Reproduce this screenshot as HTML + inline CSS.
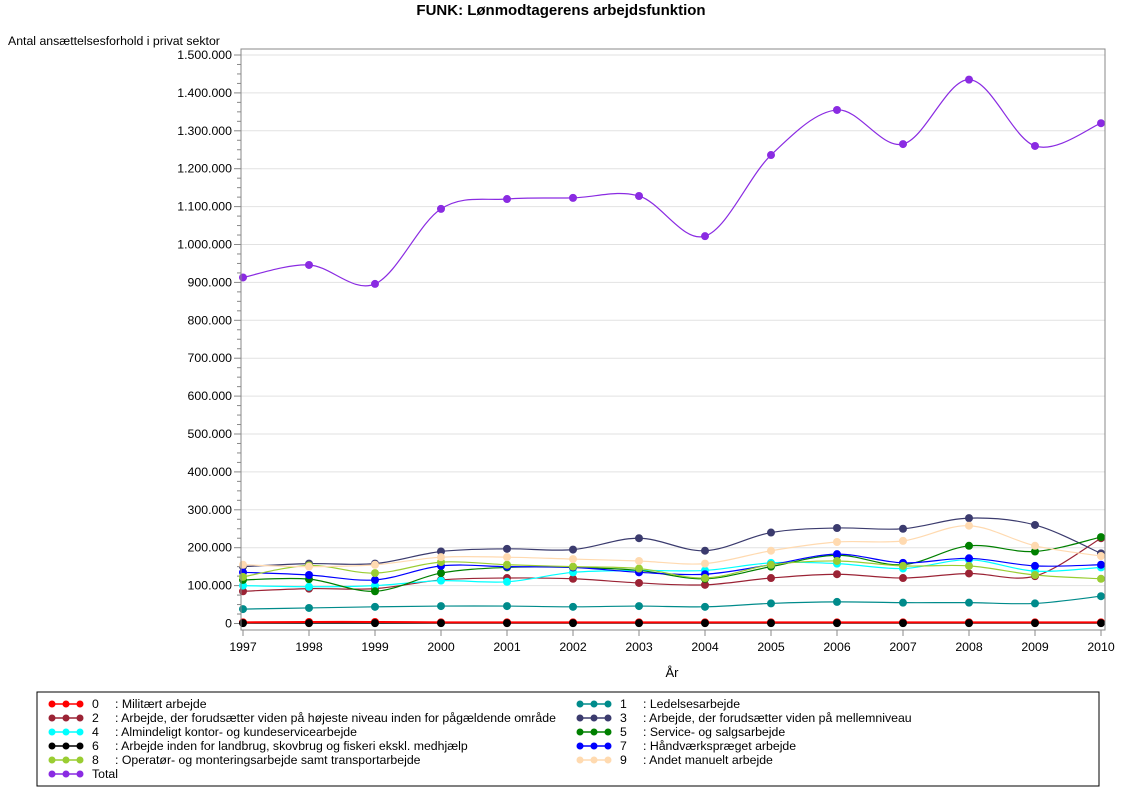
<!DOCTYPE html>
<html><head><meta charset="utf-8"><style>
body{margin:0;background:#fff;font-family:"Liberation Sans",sans-serif}
</style></head><body>
<svg id="s" width="1122" height="793" xmlns="http://www.w3.org/2000/svg" font-family="Liberation Sans, sans-serif">
<rect width="1122" height="793" fill="#fff"/>
<text x="561" y="15" text-anchor="middle" font-size="15" font-weight="bold">FUNK: Lønmodtagerens arbejdsfunktion</text>
<text x="8" y="45" font-size="12.3">Antal ansættelsesforhold i privat sektor</text>
<text x="672" y="677" text-anchor="middle" font-size="13">År</text>
<g id="grid"></g>
<g id="ser"></g>
<rect x="241" y="49" width="864" height="581" fill="none" stroke="#888"/>
<g id="leg"></g>
<rect x="37" y="692" width="1062" height="94" fill="none" stroke="#000"/>
</svg>
<script>
const S=document.getElementById('s'),ns='http://www.w3.org/2000/svg';
function el(t,a,p,txt){const e=document.createElementNS(ns,t);for(const k in a)e.setAttribute(k,a[k]);if(txt!=null)e.textContent=txt;(p||S).appendChild(e);return e}
const X=i=>243+i*66, Y=v=>623.5-v*0.379;
const G=document.getElementById('grid');
for(let v=0;v<=1500;v+=100){const y=Y(v);
 if(v>0)el('line',{x1:241,x2:1105,y1:y,y2:y,stroke:'#e2e2e2'},G);
 el('line',{x1:234,x2:241,y1:y,y2:y,stroke:'#888'},G);
 el('text',{x:232,y:y+4,'text-anchor':'end','font-size':12.3},G,v==0?'0':(v>=1000?Math.floor(v/1000)+'.'+String(v%1000).padStart(3,'0')+'.000':v+'.000'));
 if(v<1500)for(let m=1;m<4;m++){const ym=Y(v+m*25);el('line',{x1:237,x2:241,y1:ym,y2:ym,stroke:'#888'},G);}
}
for(let i=0;i<14;i++){el('line',{x1:X(i),x2:X(i),y1:630,y2:636,stroke:'#888'},G);el('text',{x:X(i),y:651,'text-anchor':'middle','font-size':12.3},G,1997+i);}
const D=[
['#ff0000',[3,4,4,3,3,3,3,3,3,3,3,3,3,3]],
['#008b8b',[38,41,44,46,46,44,46,44,53,57,55,55,53,72]],
['#9b2335',[85,92,92,115,120,118,107,102,120,130,120,132,125,225]],
['#3b3b6e',[150,158,158,190,197,195,225,192,240,252,250,278,260,185]],
['#00ffff',[100,97,100,113,110,135,140,140,160,158,145,168,138,148]],
['#008000',[115,117,85,133,148,148,140,118,150,180,155,205,190,228]],
['#000000',[1,1,1,1,1,1,1,1,1,1,1,1,1,1]],
['#0000ff',[135,128,115,152,150,148,135,130,155,183,160,172,152,155]],
['#9acd32',[123,153,133,162,155,150,145,120,155,165,152,152,128,118]],
['#ffdab0',[155,150,155,175,175,170,165,158,192,215,218,258,205,178]],
['#8a2be2',[913,946,896,1094,1120,1123,1128,1022,1236,1355,1265,1435,1260,1320]]];
const SG=document.getElementById('ser');
function pts(v){return v.map((a,i)=>[X(i),Y(a)]);}
function path(p){let d='M'+p[0];
 for(let i=0;i<p.length-1;i++){const p0=p[i-1]||p[i],p1=p[i],p2=p[i+1],p3=p[i+2]||p2;
  d+=`C${p1[0]+(p2[0]-p0[0])/6},${p1[1]+(p2[1]-p0[1])/6} ${p2[0]-(p3[0]-p1[0])/6},${p2[1]-(p3[1]-p1[1])/6} ${p2[0]},${p2[1]}`;}
 return d;}
// black line then red line, then markers red then black
el('path',{d:path(pts(D[6][1])),fill:'none',stroke:'#000','stroke-width':1.2},SG);
el('path',{d:path(pts(D[0][1])),fill:'none',stroke:'#ff0000','stroke-width':2},SG);
for(const q of pts(D[0][1]))el('circle',{cx:q[0],cy:q[1],r:4,fill:'#ff0000'},SG);
for(const q of pts(D[6][1]))el('circle',{cx:q[0],cy:q[1],r:4,fill:'#000'},SG);
for(const idx of [1,2,3,4,5,7,8,9,10]){const [c,v]=D[idx];const p=pts(v);
 el('path',{d:path(p),fill:'none',stroke:c,'stroke-width':1.2},SG);
 for(const q of p)el('circle',{cx:q[0],cy:q[1],r:4,fill:c},SG);}
const L=document.getElementById('leg');
const names=[['0',': Militært arbejde'],['1',': Ledelsesarbejde'],['2',': Arbejde, der forudsætter viden på højeste niveau inden for pågældende område'],['3',': Arbejde, der forudsætter viden på mellemniveau'],['4',': Almindeligt kontor- og kundeservicearbejde'],['5',': Service- og salgsarbejde'],['6',': Arbejde inden for landbrug, skovbrug og fiskeri ekskl. medhjælp'],['7',': Håndværkspræget arbejde'],['8',': Operatør- og monteringsarbejde samt transportarbejde'],['9',': Andet manuelt arbejde'],['Total','']];
names.forEach((n,i)=>{const col=i==10?0:i%2,row=Math.floor(i/2),y=704+row*14,x0=col?580:52;const c=D[i][0];
 el('line',{x1:x0,x2:x0+28,y1:y,y2:y,stroke:c,'stroke-width':1.5},L);
 for(let k=0;k<3;k++)el('circle',{cx:x0+k*14,cy:y,r:3.5,fill:c},L);
 el('text',{x:x0+40,y:y+4,'font-size':12.3},L,n[0]);
 if(n[1])el('text',{x:x0+63,y:y+4,'font-size':12.3},L,n[1]);});
</script>
</body></html>
